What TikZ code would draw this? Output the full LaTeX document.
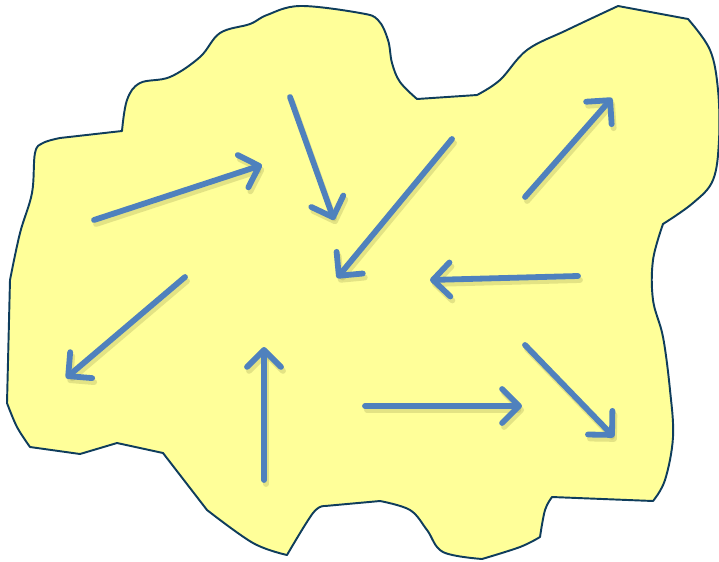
\documentclass[tikz,border=0pt]{standalone}
\usetikzlibrary{arrows.meta}
\definecolor{blobfill}{HTML}{FFFF99}
\definecolor{blobline}{HTML}{0F3D5C}
\definecolor{flowblue}{HTML}{4F81BD}
\definecolor{flowshade}{RGB}{175,175,95}
\begin{document}
\begin{tikzpicture}[x=0.02cm,y=-0.02cm,
blob/.style={draw=blobline,fill=blobfill,line width=1.1pt,line join=round},
flow/.style={draw=flowblue,line width=3.3pt,line cap=round,-{Straight Barb[length=3.4mm,width=6.8mm,round]}},
flowsh/.style={flow,draw=flowshade,opacity=.35}]
\useasboundingbox (0,0) rectangle (719,561);
\draw[blob] (122,131) -- plot[smooth,tension=.6] coordinates {(122,131) (127,100) (140,83) (170,77) (200,57) (220,33) (250,24) (267,15) (300,6) (360,13) (378,20) (388,40) (392,63) (400,82) (417,99)}
  -- (477,95) -- plot[smooth,tension=.6] coordinates {(477,95) (500,80) (527,50) (567,30) (618,6)}
  -- (688,19) -- plot[smooth,tension=.6] coordinates {(688,19) (710,50) (718,90) (719,140) (713,180) (693,203) (663,224)}
  -- plot[smooth,tension=.6] coordinates {(663,224) (653,260) (653,300) (663,337) (670,390) (673,437) (665,480) (653,501)}
  -- (552,497) -- plot[smooth,tension=.6] coordinates {(552,497) (545,510) (540,537)}
  -- plot[smooth,tension=.6] coordinates {(540,537) (520,547) (482,559)}
  -- plot[smooth,tension=.6] coordinates {(482,559) (443,552) (427,530) (410,510) (380,501)}
  -- (325,506) -- plot[smooth,tension=.6] coordinates {(325,506) (313,513) (287,555)}
  -- plot[smooth,tension=.6] coordinates {(287,555) (253,543) (207,510)}
  -- (163,453) -- (117,443) -- (80,454) -- (30,447) -- plot[smooth,tension=.6] coordinates {(30,447) (17,427) (7,403)}
  -- (10,280) -- plot[smooth,tension=.6] coordinates {(10,280) (20,233) (32,193) (35,153) (43,143) (60,138)}
  -- cycle;
% arrow ends
\coordinate (s1) at (94,220);  \coordinate (e1) at (262,165);
\coordinate (s2) at (290,97);  \coordinate (e2) at (334,220);
\coordinate (s3) at (452,139); \coordinate (e3) at (337,278);
\coordinate (s4) at (525,197); \coordinate (e4) at (612,98);
\coordinate (s5) at (578,276); \coordinate (e5) at (430,280);
\coordinate (s6) at (185,277); \coordinate (e6) at (66,378);
\coordinate (s7) at (264,480); \coordinate (e7) at (264,347);
\coordinate (s8) at (365,406); \coordinate (e8) at (522,406);
\coordinate (s9) at (525,345); \coordinate (e9) at (614,437);
\foreach \i in {1,...,9} {
  \draw[flowsh] ([shift={(2,4)}]s\i) -- ([shift={(2,4)}]e\i);
  \draw[flow] (s\i) -- (e\i);
}
\end{tikzpicture}
\end{document}
